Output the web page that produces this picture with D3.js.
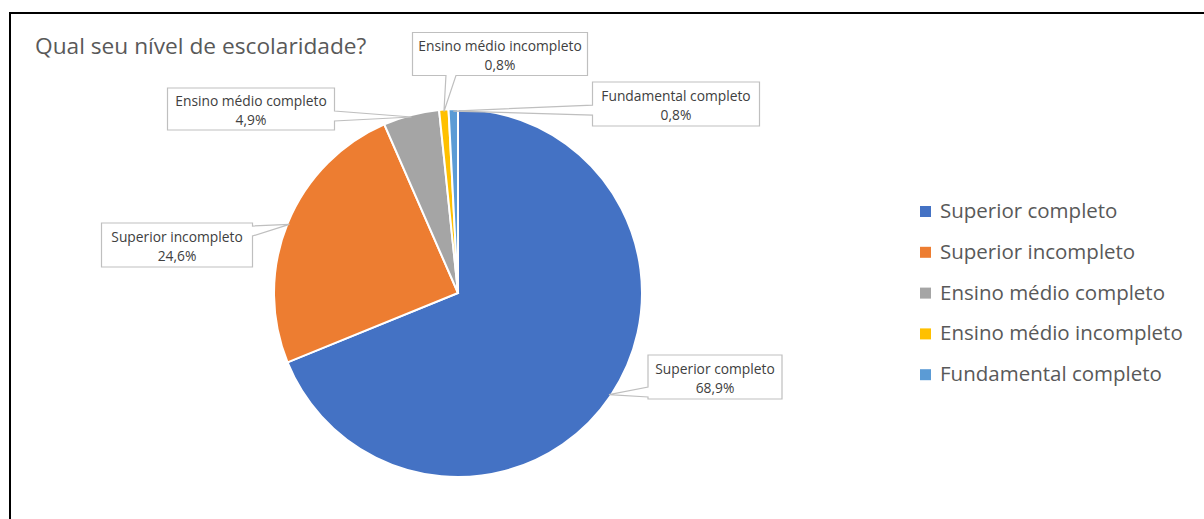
<!DOCTYPE html>
<html>
<head>
<meta charset="utf-8">
<script src="https://cdn.jsdelivr.net/npm/d3@7"></script>
<style>
  body { margin: 0; background: #fff; }
  text { font-family: "Open Sans", sans-serif; }
</style>
</head>
<body>
<script>
var width = 1204, height = 519;

// data
var categories = ["Superior completo", "Superior incompleto", "Ensino médio completo", "Ensino médio incompleto", "Fundamental completo"];
var counts = [84, 30, 6, 1, 1];
var pctLabels = ["68,9%", "24,6%", "4,9%", "0,8%", "0,8%"];
var colors = ["#4472C4", "#ED7D31", "#A5A5A5", "#FFC000", "#5B9BD5"];

// callout box placement (box centre, size) for each slice
var boxes = [
  {cx: 715, cy: 377, w: 134, h: 44, side: "left"},
  {cx: 177, cy: 245, w: 151, h: 44, side: "right"},
  {cx: 251, cy: 109, w: 167, h: 42, side: "right"},
  {cx: 500, cy: 54, w: 175, h: 43, side: "bottom"},
  {cx: 676, cy: 104, w: 167, h: 44, side: "left"}
];

var cx = 458, cy = 293, r = 184;

var svg = d3.select("body").append("svg")
    .attr("width", width)
    .attr("height", height);

// frame
svg.append("path")
    .attr("d", "M10,519 L10,13 L1204,13")
    .attr("fill", "none")
    .attr("stroke", "#000")
    .attr("stroke-width", 2);

svg.append("text")
    .attr("x", 35)
    .attr("y", 54)
    .style("font-size", "22.7px")
    .style("fill", "#595959")
    .text("Qual seu nível de escolaridade?");

var pie = d3.pie().sort(null).value(function(d) { return d; });
var arcs = pie(counts);

var arc = d3.arc().innerRadius(0).outerRadius(r);
var edge = d3.arc().innerRadius(r - 2).outerRadius(r - 2);

var g = svg.append("g").attr("transform", "translate(" + cx + "," + cy + ")");

g.selectAll(".slice")
    .data(arcs)
  .enter().append("path")
    .attr("class", "slice")
    .attr("d", arc)
    .attr("fill", function(d, i) { return colors[i]; })
    .attr("stroke", "#fff")
    .attr("stroke-width", 2);

// callouts
var callouts = svg.append("g");
arcs.forEach(function(d, i) {
  var b = boxes[i];
  var tip = edge.centroid(d);
  var tx = tip[0] + cx, ty = tip[1] + cy;
  var x0 = b.cx - b.w / 2, y0 = b.cy - b.h / 2, x1 = b.cx + b.w / 2, y1 = b.cy + b.h / 2;
  var pts;
  // box outline with a wedge pointing at the slice
  if (b.side == "left") {
    var a = Math.max(y0 + 3, Math.min(ty - 6, y1 - 12));
    pts = [[x0, y0], [x1, y0], [x1, y1], [x0, y1], [x0, a + 10], [tx, ty], [x0, a], [x0, y0]];
  } else if (b.side == "right") {
    var a2 = Math.max(y0 + 3, Math.min(ty - 6, y1 - 12));
    pts = [[x0, y0], [x1, y0], [x1, a2], [tx, ty], [x1, a2 + 10], [x1, y1], [x0, y1], [x0, y0]];
  } else {
    var bx = Math.max(x0 + 5, Math.min(tx, x1 - 20));
    pts = [[x0, y0], [x1, y0], [x1, y1], [bx + 12, y1], [tx, ty], [bx + 2, y1], [x0, y1], [x0, y0]];
  }
  callouts.append("path")
      .attr("d", d3.line()(pts) + "Z")
      .attr("fill", "#fff")
      .attr("stroke", "#BFBFBF")
      .attr("stroke-width", 1.2);
  callouts.append("text")
      .attr("x", b.cx)
      .attr("y", b.cy - 3)
      .attr("text-anchor", "middle")
      .style("font-size", "13.8px")
      .style("fill", "#404040")
      .text(categories[i]);
  callouts.append("text")
      .attr("x", b.cx)
      .attr("y", b.cy + 16)
      .attr("text-anchor", "middle")
      .style("font-size", "13.8px")
      .style("fill", "#404040")
      .text(pctLabels[i]);
});

// legend
var legend = svg.append("g").attr("transform", "translate(920,211)");
var item = legend.selectAll(".item")
    .data(categories)
  .enter().append("g")
    .attr("class", "item")
    .attr("transform", function(d, i) { return "translate(0," + (i * 40.8) + ")"; });

item.append("rect")
    .attr("x", 0)
    .attr("y", -5)
    .attr("width", 11)
    .attr("height", 11)
    .attr("fill", function(d, i) { return colors[i]; });

item.append("text")
    .attr("x", 20)
    .attr("y", 7)
    .style("font-size", "20.5px")
    .style("fill", "#595959")
    .text(function(d) { return d; });
</script>
</body>
</html>
